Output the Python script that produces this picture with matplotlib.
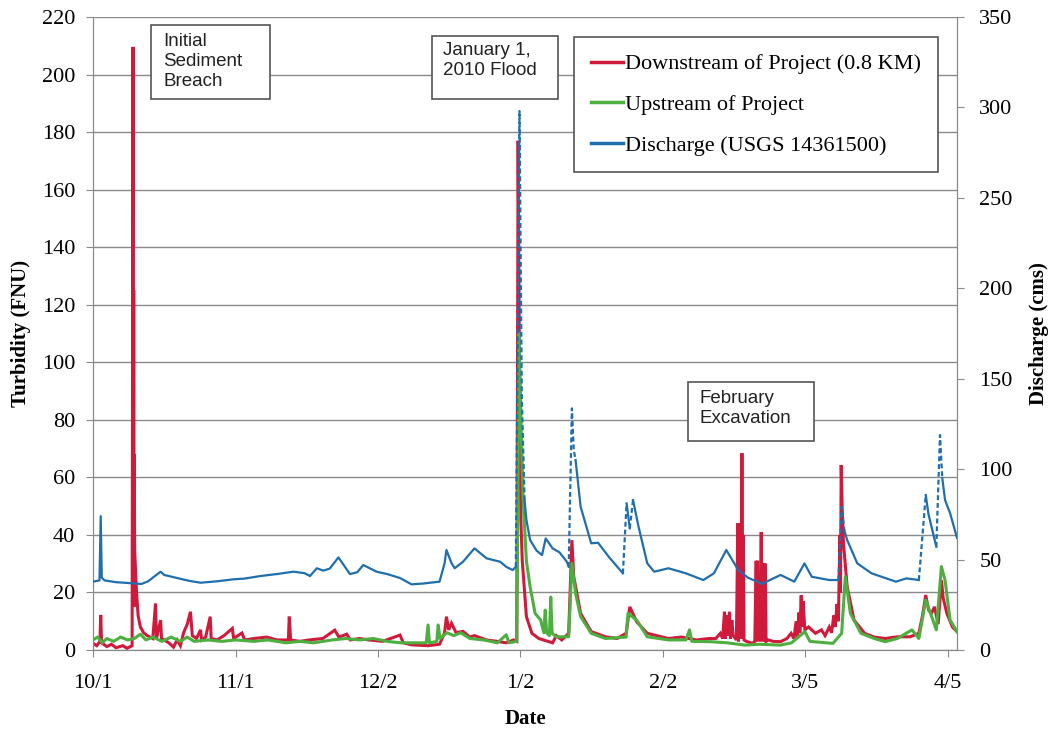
import numpy as np
import matplotlib
matplotlib.use('Agg')
import matplotlib.pyplot as plt
from matplotlib.lines import Line2D
from matplotlib.patches import Rectangle

plt.rcParams.update({'font.family': 'Liberation Serif', 'font.size': 16})

# x = days since 10/1/2009
tick_days = [0, 31, 62, 93, 124, 155, 186]
tick_labels = ['10/1', '11/1', '12/2', '1/2', '2/2', '3/5', '4/5']

# turbidity 0.8 km downstream (FNU)
downstream = [
    (0, 2.3), (0.8, 1.5), (1.5, 3), (1.67, 12.2), (1.85, 2.5), (3, 1.2), (4, 2), (5, 0.8), (6.5, 1.5), (7.4, 0.6),
    (8.5, 1.5), (8.7, 209.6), (8.8, 20), (8.85, 125), (8.9, 15), (8.95, 68), (9.05, 35), (9.4, 22), (9.8, 12),
    (10.3, 8), (11, 6), (11.8, 5), (13.0, 4), (13.6, 16.2), (13.8, 4), (14.7, 10.4), (14.9, 4), (16.5, 2.5),
    (17.5, 1), (18.3, 3.5), (19.0, 1.5), (19.7, 6), (20.5, 9), (21.2, 13.3), (21.6, 5), (22.5, 4), (23.4, 7),
    (23.6, 3.5), (24.5, 4.5), (25.5, 11.6), (25.7, 4), (27, 3.5), (28.5, 5), (30.3, 7.5), (30.6, 4), (32.4, 5.9),
    (33, 3.5), (35, 4), (37.8, 4.5), (40, 3.5), (42.5, 3.5), (42.7, 11.6), (43.0, 3.5), (45, 3), (47, 3.5),
    (50, 4), (52.6, 6.9), (53.5, 4.5), (55.2, 5.5), (56, 3.5), (58, 4), (60, 3.5), (63, 3), (66.8, 5.2),
    (67.5, 2.5), (69.3, 1.8), (72.9, 1.5), (75.4, 2), (76.5, 6), (76.9, 11.6), (77.4, 7), (78.0, 9.3), (79, 6),
    (80.5, 6.5), (82, 4.5), (83, 5), (85.6, 3.5), (88, 3), (89.9, 2.5), (91.5, 3.5), (92.2, 3),
    (92.5, 177), (92.8, 95), (93.1, 45), (93.4, 31), (94.3, 11.6), (95.5, 5.8), (97.0, 4), (100.0, 2.5),
    (100.8, 5), (102, 3.5), (103.5, 5.8), (104.2, 38.2), (104.6, 25.5), (106.1, 12.7), (108.4, 6.4),
    (111.5, 4.6), (114, 4), (116.0, 5.8), (116.8, 15), (118.3, 9.8), (120.6, 5.8), (125.2, 4), (128, 4.5),
    (131.3, 3.5), (134, 4), (135.5, 4), (136.5, 5.8), (137.0, 4), (137.4, 13.3), (137.6, 4), (137.8, 12),
    (138.0, 5), (138.5, 13.3), (138.7, 4), (139.0, 10.4), (139.3, 5), (140.0, 3.5), (140.3, 44), (140.45, 3),
    (140.6, 44), (140.75, 4), (140.9, 44), (141.05, 5), (141.2, 68.4), (141.35, 4), (141.5, 40), (141.65, 3.5),
    (142.2, 3), (143.5, 2.3), (144.0, 3), (144.3, 31), (144.45, 3), (144.6, 31), (144.75, 5), (145.0, 20),
    (145.15, 3), (145.4, 41), (145.55, 4), (145.7, 30), (145.85, 3), (146.0, 30), (146.15, 4), (146.3, 30),
    (146.45, 3), (146.9, 3.5), (148, 3), (149.6, 2.9), (151, 4), (151.9, 5.8), (152.5, 4), (153.0, 10),
    (153.3, 4), (153.6, 13), (153.8, 6), (154.1, 19), (154.3, 8), (154.5, 17), (154.9, 7), (155.7, 8),
    (157.2, 5.8), (158.5, 7), (159.3, 5), (160.2, 8), (160.7, 6), (161.2, 12), (161.5, 8), (161.9, 16),
    (162.2, 10), (162.5, 40), (162.65, 20), (162.8, 64.3), (163.0, 50), (163.3, 37), (164.1, 22), (165.6, 10.4),
    (167.9, 5.8), (170, 4.5), (172.4, 4), (175, 4.6), (177.8, 4.6), (179.7, 5.8), (180.5, 12), (181.2, 19.1),
    (181.8, 14), (182.4, 12.7), (183.1, 15), (183.9, 9), (184.6, 24.3), (185.0, 18), (185.8, 12.7), (187, 8),
    (188, 6.4),
]

# turbidity upstream (FNU)
upstream = [
    (0, 3.5), (1, 4.5), (2, 2.5), (3, 4), (4.5, 3), (6, 4.5), (7.5, 3.5), (9, 4), (10.3, 5.5), (11.5, 3.5),
    (13, 4.5), (15, 3), (17, 4.5), (19, 3), (20.5, 4.5), (22, 3), (25, 3.5), (28, 3), (31, 3.5), (35, 3),
    (38, 3.5), (42, 2.5), (45, 3), (48, 2.5), (52, 3.5), (55, 4), (58, 3.5), (61, 4), (64, 3), (67, 2.5),
    (70, 2.5), (72.5, 2.5), (72.9, 8.7), (73.2, 2.5), (74.8, 3), (75.1, 8.7), (75.5, 4), (77, 6), (78.5, 5),
    (80, 6), (82, 4), (85, 3.5), (88, 2.5), (89.9, 5.3), (90.5, 2.5), (92.2, 3),
    (92.7, 110), (93.2, 75), (93.6, 52), (94.3, 31), (95.1, 22), (96.2, 12.7), (97.4, 10.4), (98.1, 6),
    (98.4, 13.9), (98.7, 6), (99.3, 5), (99.6, 18.4), (99.9, 5.8), (100.8, 4.6), (103.5, 4.6), (104.2, 30.1),
    (105.0, 19.7), (106.1, 11.6), (108.4, 5.8), (111.5, 4), (116.0, 4.5), (116.4, 12.7), (118.3, 10.4),
    (120.6, 4.6), (125.2, 3.5), (129.0, 3.5), (129.8, 7), (130.3, 3), (134.3, 2.9), (138, 2.5), (141.9, 1.7),
    (145, 2), (149.6, 1.7), (152, 2.5), (154.9, 6.4), (156, 3), (161.0, 2.3), (162.9, 5.8), (163.7, 25.5),
    (164.8, 12.7), (167.1, 5.8), (170, 4), (172.4, 2.9), (175, 4), (178.2, 7), (179.7, 4), (181.2, 17.4),
    (183.5, 7), (184.6, 29), (185.4, 24.3), (186.5, 10.4), (188, 6.4),
]

# discharge USGS 14361500 (cms)
discharge = [
    (0, 37.8), (1.4, 38.5), (1.67, 74), (1.9, 40), (2.5, 38.5), (5, 37.5), (8, 37), (10.5, 36.5), (12, 38),
    (13.5, 41), (14.7, 43.3), (15.5, 41.5), (18.3, 39.8), (21, 38.2), (23.4, 37.2), (27, 38), (30.6, 39.1),
    (33, 39.5), (36.4, 40.9), (40, 42), (43.6, 43.3), (46, 42.5), (47.2, 40.9), (48.7, 45.2), (50.1, 43.9),
    (51.5, 45), (53.4, 51.2), (55.9, 42), (57.5, 43), (58.8, 47), (61.7, 43.3), (64, 42), (66.8, 39.8),
    (69.3, 36.3), (72, 36.8), (75.4, 37.8), (76.5, 48), (76.9, 55.3), (78.0, 48), (78.7, 45.2), (80.5, 48.8),
    (83.0, 56.2), (85.6, 50.7), (88.6, 48.8), (89.9, 46), (91.3, 44.2), (92.0, 46),
    (92.8, 298), (93.3, 140), (93.9, 83), (94.3, 72), (95.1, 60.8), (96.5, 55), (97.7, 52.5), (98.5, 61.7),
    (100.0, 56.2), (101.5, 54), (103.1, 48.8), (103.5, 46), (104.2, 133.6), (104.6, 110.6), (105.0, 105),
    (106.1, 79.2), (108.4, 59), (109.9, 59.3), (112.2, 51.6), (115.3, 42.4), (116.1, 81.1), (116.8, 67.3),
    (117.5, 82.9), (118.7, 68.2), (120.6, 47.9), (122.1, 43.3), (125.2, 45.2), (129.0, 42.4), (132.8, 38.7),
    (135.1, 42.4), (137.8, 55.3), (140.4, 44.2), (142.5, 40), (144.5, 37.8), (145.5, 36.5), (149.6, 41.5),
    (152.6, 37.8), (154.8, 47.9), (156.4, 40.5), (160.2, 38.7), (162.2, 38.7), (162.9, 79.2), (163.5, 66),
    (164.1, 60.8), (166.3, 47.9), (169.4, 42.4), (174.7, 37.8), (177.0, 39.6), (179.7, 38.7), (181.2, 85.7),
    (181.8, 75), (183.5, 57.1), (184.3, 118.8), (184.8, 95), (185.4, 82.9), (186.5, 75.6), (188, 62),
]
# stretches with missing discharge record (drawn dashed)
q_gaps = [(92.0, 93.9), (103.5, 105.0), (115.3, 116.1), (116.8, 117.5),
          (162.2, 163.5), (179.7, 181.2), (183.5, 184.8)]

RED = '#cf1a3c'
GREEN = '#4caf3f'
BLUE = '#1f6fae'
GRAY = '#8a8a8a'


def split_runs(pts, gaps):
    # break the record into solid / dashed pieces, NaN between pieces
    solid = ([], [])
    dashed = ([], [])
    for (x0, y0), (x1, y1) in zip(pts[:-1], pts[1:]):
        tgt = dashed if any(a <= x0 and x1 <= b for a, b in gaps) else solid
        if tgt[0] and tgt[0][-1] == x0:
            tgt[0].append(x1); tgt[1].append(y1)
        else:
            if tgt[0]:
                tgt[0].append(np.nan); tgt[1].append(np.nan)
            tgt[0].extend([x0, x1]); tgt[1].extend([y0, y1])
    return solid, dashed


fig = plt.figure(figsize=(10.49, 7.32), dpi=100)
ax = fig.add_axes([0.0887, 0.112, 0.8236, 0.8648])
ax2 = ax.twinx()

dx, dy = zip(*downstream)
ux, uy = zip(*upstream)
ax.plot(dx, dy, color=RED, lw=2.2, zorder=3, solid_joinstyle='miter')
ax.plot(ux, uy, color=GREEN, lw=2.2, zorder=4)

solid, dashed = split_runs(discharge, q_gaps)
ax2.plot(solid[0], solid[1], color=BLUE, lw=1.6, zorder=3)
ax2.plot(dashed[0], dashed[1], color=BLUE, lw=1.6, ls=(0, (2.2, 1.3)), zorder=3)

ax.set_xlim(0, 188)
ax.set_ylim(0, 220)
ax2.set_ylim(0, 350)
ax.set_xticks(tick_days)
ax.set_xticklabels(tick_labels)
ax.set_yticks(range(0, 221, 20))
ax2.set_yticks(range(0, 351, 50))
ax.grid(axis='y', color=GRAY, lw=1)
ax.set_axisbelow(True)

for a in (ax, ax2):
    a.spines['top'].set_visible(False)
    for s in ('left', 'bottom', 'right'):
        a.spines[s].set_color(GRAY)
ax.tick_params(axis='x', length=5, color=GRAY, pad=12)
ax.tick_params(axis='y', length=5, color=GRAY, pad=8)
ax2.tick_params(axis='y', length=5, color=GRAY, pad=11)

ax.set_xlabel('Date', fontweight='bold', fontsize=15, labelpad=12)
ax.set_ylabel('Turbidity (FNU)', fontweight='bold', fontsize=15, labelpad=8)
ax2.set_ylabel('Discharge (cms)', fontweight='bold', fontsize=15, labelpad=12)

handles = [Line2D([], [], color=RED, lw=2.5), Line2D([], [], color=GREEN, lw=2.5),
           Line2D([], [], color=BLUE, lw=2.5)]
labels = ['Downstream of Project (0.8 KM)', 'Upstream of Project', 'Discharge (USGS 14361500)']
leg = ax2.legend(handles, labels, loc='upper right', bbox_to_anchor=(0.978, 0.968), fontsize=16,
                 fancybox=False, framealpha=1, edgecolor='#555555', handlelength=1.45,
                 handletextpad=0.1, labelspacing=0.9, borderpad=0.75, borderaxespad=0)
leg.get_frame().set_linewidth(1.2)
leg.set_zorder(10)

# event boxes: (x0, y0, w, h) of frame, text anchor, in axes fraction
notes = [
    ('Initial\nSediment\nBreach', (0.0671, 0.8705, 0.1377, 0.1169), (0.081, 0.9740)),
    ('January 1,\n2010 Flood', (0.3924, 0.8705, 0.1458, 0.0995), (0.405, 0.9600)),
    ('February\nExcavation', (0.6887, 0.3300, 0.1458, 0.0932), (0.7025, 0.4100)),
]
for txt, (bx, by, bw, bh), (tx, ty) in notes:
    ax2.add_patch(Rectangle((bx, by), bw, bh, transform=ax2.transAxes, facecolor='white',
                            edgecolor='#555555', lw=1.2, zorder=8))
    ax2.text(tx, ty, txt, transform=ax2.transAxes, ha='left', va='top', fontsize=13.5,
             family='Liberation Sans', color='#222222', linespacing=1.2, zorder=9)

fig.savefig('out.png', dpi=100)
